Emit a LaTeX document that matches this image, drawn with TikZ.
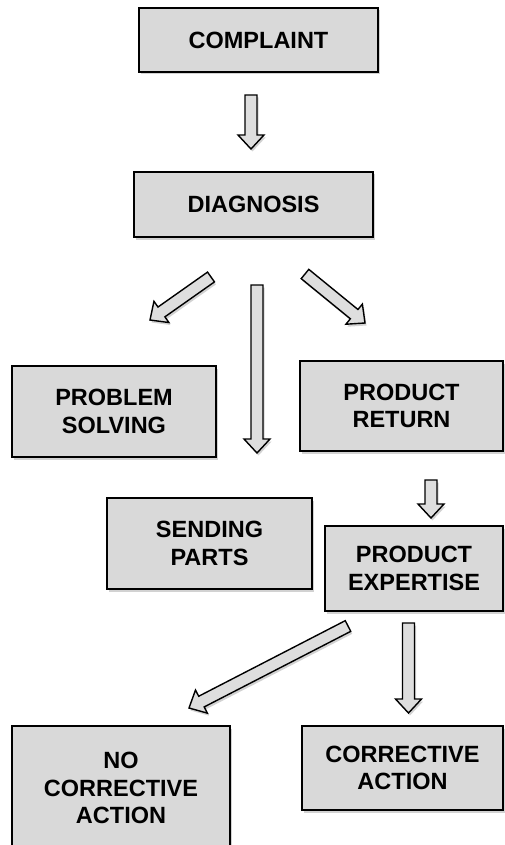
\documentclass[tikz,border=0pt]{standalone}
\usepackage{fontspec}
\setmainfont{Liberation Sans}
\usetikzlibrary{calc,shadows}

\newcommand{\arrowsw}{6pt}
\newcommand{\arrowhw}{13pt}
\newcommand{\arrowhl}{14pt}
% hollow block arrow from tail #1 to tip #2
\newcommand{\blockarrow}[2]{%
  \coordinate (ba-n) at ($(#2)!\arrowhl!(#1)$);
  \draw[barrow] ($(#1)!\arrowsw!90:(#2)$) -- ($(ba-n)!\arrowsw!-90:(#1)$)
    -- ($(ba-n)!\arrowhw!-90:(#1)$) -- (#2) -- ($(ba-n)!\arrowhw!90:(#1)$)
    -- ($(ba-n)!\arrowsw!90:(#1)$) -- ($(#1)!\arrowsw!-90:(#2)$) -- cycle;}

\begin{document}
\begin{tikzpicture}[x=1pt, y=-1pt,
    box/.style={draw, line width=1.8pt, fill=boxgray, align=center,
      font=\bfseries\fontsize{23.5}{27.5}\selectfont, inner sep=0pt,
      drop shadow={shadow xshift=1.5pt, shadow yshift=-2.5pt, opacity=0.35}},
    barrow/.style={draw, line width=1.4pt, fill=arrgray, line join=miter,
      drop shadow={shadow xshift=1.5pt, shadow yshift=-2.5pt, opacity=0.35}}
  ]
    \definecolor{boxgray}{HTML}{D9D9D9}
    \definecolor{arrgray}{HTML}{DEDEDE}
    \useasboundingbox[fill=white] (0,0) rectangle (504,845);

    \node[box, minimum width=239pt, minimum height=64pt] (complaint) at (258.5,40) {COMPLAINT};
    \node[box, minimum width=239pt, minimum height=65pt] (diagnosis) at (253.5,204.5) {DIAGNOSIS};
    \node[box, minimum width=204pt, minimum height=91pt] (solving) at (114,411.5) {PROBLEM\\SOLVING};
    \node[box, minimum width=203pt, minimum height=90pt] (return) at (401.5,406) {PRODUCT\\RETURN};
    \node[box, minimum width=205pt, minimum height=91pt] (sending) at (209.5,543.5) {SENDING\\PARTS};
    \node[box, minimum width=178pt, minimum height=85pt] (expertise) at (414,568.5) {PRODUCT\\EXPERTISE};
    \node[box, minimum width=201pt, minimum height=84pt] (corrective) at (402.5,768) {CORRECTIVE\\ACTION};
    \node[box, minimum width=218pt, minimum height=124pt] (nocorrective) at (121,788) {NO\\CORRECTIVE\\ACTION};

    \coordinate (c1a) at (251,95);    \coordinate (c1b) at (251,149);
    \coordinate (d1a) at (211,277);   \coordinate (d1b) at (150,320);
    \coordinate (d2a) at (257,285);   \coordinate (d2b) at (257,453);
    \coordinate (d3a) at (305,274);   \coordinate (d3b) at (365,323);
    \coordinate (r1a) at (431,480);   \coordinate (r1b) at (431,518);
    \coordinate (e1a) at (348,626);   \coordinate (e1b) at (189,708);
    \coordinate (e2a) at (408.5,623); \coordinate (e2b) at (408.5,713);

    \blockarrow{c1a}{c1b}
    \blockarrow{d1a}{d1b}
    \blockarrow{d2a}{d2b}
    \blockarrow{d3a}{d3b}
    \blockarrow{r1a}{r1b}
    \blockarrow{e1a}{e1b}
    \blockarrow{e2a}{e2b}
  \end{tikzpicture}
\end{document}
